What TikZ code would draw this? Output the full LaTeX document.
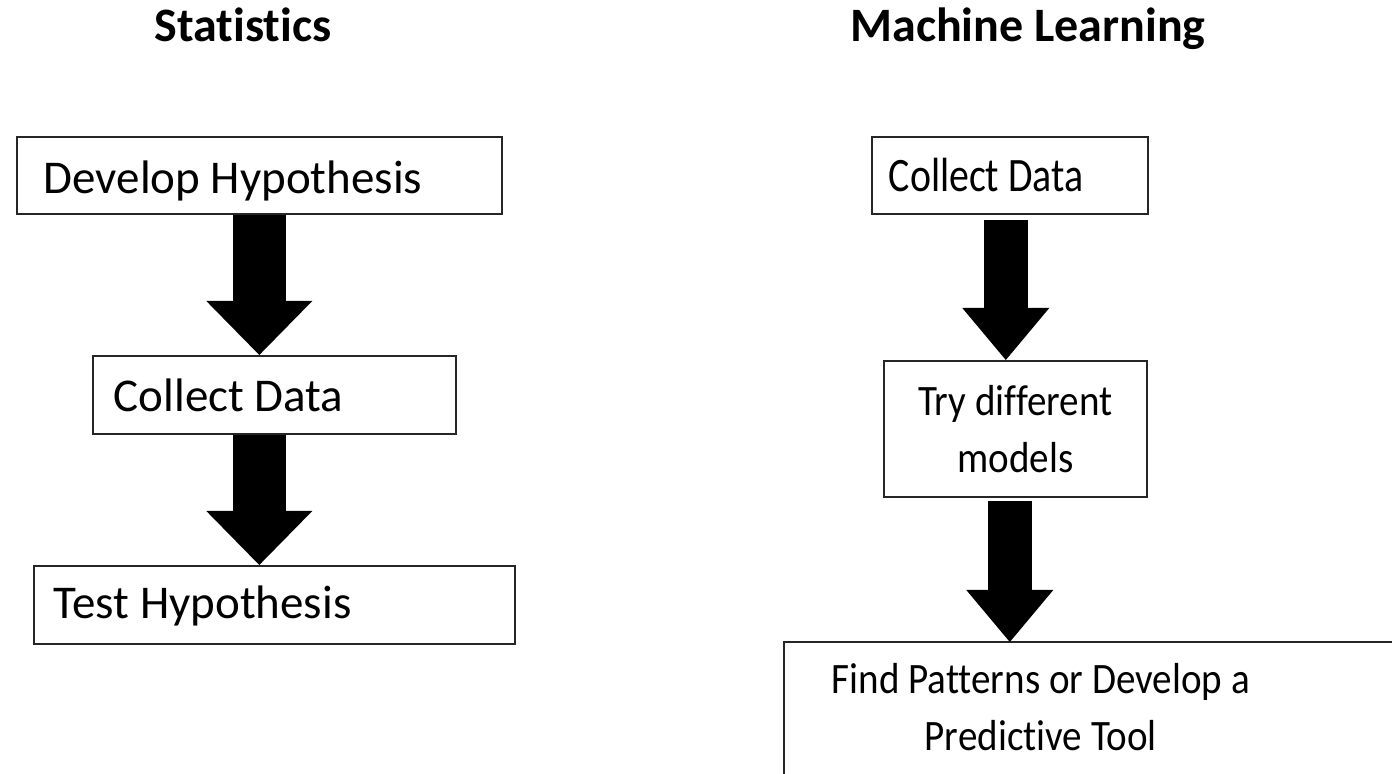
\documentclass[tikz,border=0pt]{standalone}
\usepackage{fontspec}
\setmainfont{Carlito}[Ligatures=NoCommon]
\newfontfamily\mlfont{Carlito}[FakeStretch=0.83, Ligatures=NoCommon]
\newfontfamily\mlwidefont{Carlito}[FakeStretch=0.9, Ligatures=NoCommon]
\usepackage{tikz}
\usetikzlibrary{arrows.meta,positioning}

\begin{document}
\begin{tikzpicture}
	[
		x=0.5pt, y=-0.5pt,
		stepbox/.style={draw=black!85, line width=0.8pt, anchor=north west, inner ysep=0pt, align=flush left, font=\fontsize{23.5}{28.5}\selectfont},
		mlbox/.style={draw=black!85, line width=0.8pt, anchor=north west, align=flush center, font=\mlwidefont\fontsize{21.7}{28.5}\selectfont},
		heading/.style={anchor=base, font=\bfseries\fontsize{24}{29}\selectfont},
		statarrow/.style={line width=26.5pt, -{Triangle[width=53pt, length=27pt, line width=0pt]}},
		mlarrow/.style={line width=22pt, -{Triangle[width=43.5pt, length=26pt, line width=0pt]}}
	]

	\useasboundingbox (0,0) rectangle (1392,774);
	\clip (0,0) rectangle (1392,774);

	% headings
	\node[heading] (stat) at (243,42) {Statistics};
	\node[heading] (ml) at (1028,42) {Machine Learning};

	% statistics steps
	\node[stepbox, inner xsep=13.5pt, text width=215.5pt, text height=28.5pt, text depth=10pt] (dev) at (16,136) {Develop Hypothesis};
	\node[stepbox, inner xsep=10.5pt, text width=160.5pt, text height=28pt, text depth=11pt] (coll) at (92,355) {Collect Data};
	\node[stepbox, inner xsep=10pt, text width=220.5pt, text height=26.5pt, text depth=12.5pt] (test) at (33,565) {Test Hypothesis};

	% machine learning steps
	\node[stepbox, font=\mlfont\fontsize{24}{29}\selectfont, inner xsep=8.5pt, text width=121pt, text height=27.5pt, text depth=11pt] (mlcoll) at (871,136) {Collect Data};
	\node[mlbox, inner xsep=4pt, text width=123.5pt, minimum height=68pt] (mltry) at (883,360) {Try different\\models};
	\node[mlbox, draw=none, inner xsep=0pt, inner ysep=10.5pt, text width=256pt] (mlfind) at (784,642) {Find Patterns or Develop a\\Predictive Tool};
	\draw[black!85, line width=0.8pt] (mlfind.north west) rectangle ++(700,200);

	% arrow ends
	\coordinate (a1s) at (dev.south);
	\coordinate (a1e) at (dev.south |- coll.north);
	\coordinate (a2s) at (dev.south |- coll.south);
	\coordinate (a2e) at (dev.south |- test.north);
	\coordinate (b1s) at ([xshift=-2pt, yshift=-2.5pt]mlcoll.south);
	\coordinate (b1e) at (b1s |- mltry.north);
	\coordinate (b2s) at ([xshift=-2.75pt, yshift=-1.5pt]mltry.south);
	\coordinate (b2e) at (b2s |- mlfind.north);

	% arrows
	\foreach \from/\to in {a1s/a1e,a2s/a2e}
	\draw[statarrow] (\from) -- (\to);
	\foreach \from/\to in {b1s/b1e,b2s/b2e}
	\draw[mlarrow] (\from) -- (\to);

\end{tikzpicture}
\end{document}
